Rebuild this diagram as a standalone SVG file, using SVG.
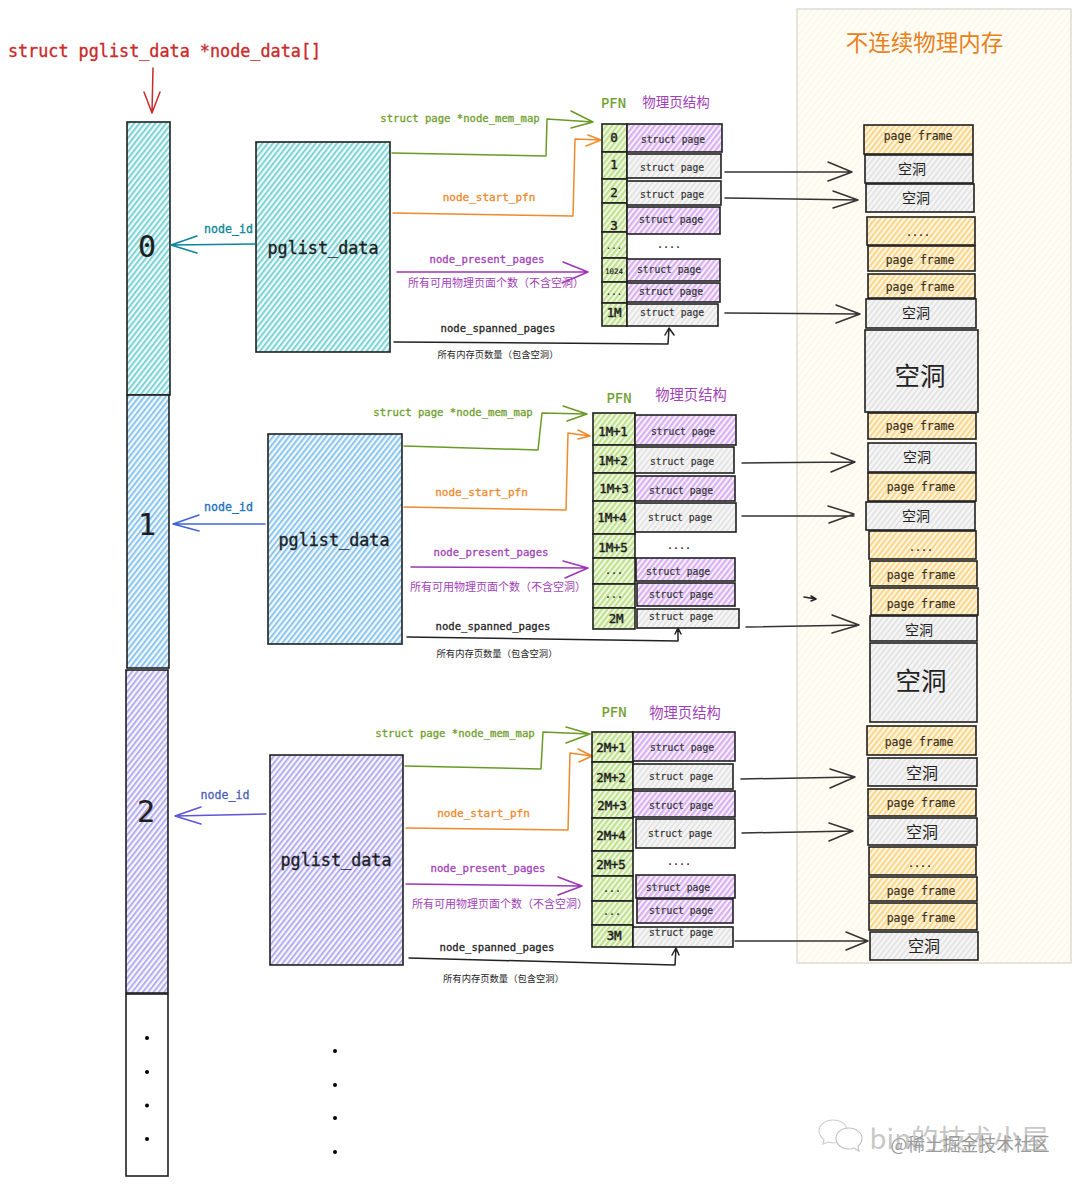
<svg xmlns="http://www.w3.org/2000/svg" width="1080" height="1185" viewBox="0 0 1080 1185">
<style>
text{font-family:"DejaVu Sans Mono","Liberation Mono",monospace;text-anchor:middle;fill:#1e1e1e;stroke:#1e1e1e;stroke-width:.2}
.cn{font-family:"Noto Sans CJK SC","Noto Sans",sans-serif;stroke-width:0}
.box{stroke:#1e1e1e;stroke-width:1.6;filter:url(#soft)}
.teal{fill:url(#hTeal)}.blue{fill:url(#hBlue)}.vio{fill:url(#hVio)}.pur{fill:url(#hPur)}.gry{fill:url(#hGry)}.grn{fill:url(#hGrn)}.org{fill:url(#hOrg)}
.sp{font-size:9.7px;fill:#333;stroke:#333}
.pf{font-size:11.4px;fill:#3a3020;stroke:#3a3020}
.pfn{font-size:12.5px;stroke-width:.45;letter-spacing:-.2px}
.hole{font-family:"Noto Sans CJK SC",sans-serif;font-size:14px;fill:#222;stroke-width:0}
.big{font-family:"Noto Sans CJK SC",sans-serif;font-size:25.5px;fill:#222;stroke-width:0}
.pg{font-size:16.8px;stroke-width:.35}
.lb{font-size:10.6px;stroke-width:.3}
.lg{fill:#6f9e2c;stroke:#6f9e2c}.lo{fill:#ec8a2c;stroke:#ec8a2c}.lp{fill:#a13fb8;stroke:#a13fb8}
.c{fill:none;stroke-width:1.5;stroke-linejoin:round;stroke-linecap:round}
.cg{stroke:#6a9a25}.co{stroke:#ee8a2a}.cp{stroke:#9c36b5}.ck{stroke:#222}.cd{stroke:#333}
</style>
<defs>
<filter id="soft" x="-5%" y="-5%" width="110%" height="110%"><feGaussianBlur stdDeviation="0.35"/></filter>
<pattern id="hTeal" width="4.2" height="4.2" patternUnits="userSpaceOnUse" patternTransform="rotate(-52)"><rect width="4.2" height="4.2" fill="#f2fbfb"/><rect width="4.2" height="2" fill="#7ed3d6"/></pattern>
<pattern id="hBlue" width="4.2" height="4.2" patternUnits="userSpaceOnUse" patternTransform="rotate(-52)"><rect width="4.2" height="4.2" fill="#f3f9fe"/><rect width="4.2" height="2" fill="#8cc6ef"/></pattern>
<pattern id="hVio" width="4.2" height="4.2" patternUnits="userSpaceOnUse" patternTransform="rotate(-52)"><rect width="4.2" height="4.2" fill="#f8f6ff"/><rect width="4.2" height="2" fill="#b6adf0"/></pattern>
<pattern id="hPur" width="4.2" height="4.2" patternUnits="userSpaceOnUse" patternTransform="rotate(-52)"><rect width="4.2" height="4.2" fill="#faf3fe"/><rect width="4.2" height="2.3" fill="#d9b2f1"/></pattern>
<pattern id="hGry" width="4.2" height="4.2" patternUnits="userSpaceOnUse" patternTransform="rotate(-52)"><rect width="4.2" height="4.2" fill="#f5f5f5"/><rect width="4.2" height="1.6" fill="#e2e2e2"/></pattern>
<pattern id="hGrn" width="4.2" height="4.2" patternUnits="userSpaceOnUse" patternTransform="rotate(-52)"><rect width="4.2" height="4.2" fill="#f2f9e4"/><rect width="4.2" height="2.2" fill="#c0e190"/></pattern>
<pattern id="hOrg" width="4.2" height="4.2" patternUnits="userSpaceOnUse" patternTransform="rotate(-52)"><rect width="4.2" height="4.2" fill="#fff8e6"/><rect width="4.2" height="2.2" fill="#fbd78e"/></pattern>
<pattern id="hPanel" width="5" height="5" patternUnits="userSpaceOnUse" patternTransform="rotate(-52)"><rect width="5" height="5" fill="#fffdf6"/><rect width="5" height="1.5" fill="#fcf7e8"/></pattern>
</defs>
<rect width="1080" height="1185" fill="#fff"/>

<g id="panel"><rect x="797" y="9" width="274" height="954" fill="url(#hPanel)" stroke="#dcdad2" stroke-width="1.4"/><text class="cn" x="924.500" y="51" font-size="22.500" style="fill:#e8801c">不连续物理内存</text></g>
<text x="164.500" y="57" font-size="16.800" style="fill:#c92a2a;stroke:#c92a2a;stroke-width:.35">struct pglist_data *node_data[]</text>

<g id="array-0"><rect class="box teal" x="127" y="122" width="43" height="273"/><text x="147" y="257" font-size="30" stroke-width=".6">0</text></g>
<g id="array-1"><rect class="box blue" x="127" y="395" width="42" height="273"/><text x="147" y="535" font-size="30" stroke-width=".6">1</text></g>
<g id="array-2"><rect class="box vio" x="126" y="670" width="42" height="323"/><text x="146" y="822" font-size="30" stroke-width=".6">2</text></g>
<g id="array-more"><rect class="box" fill="#fff" x="126" y="994" width="42" height="182"/><circle cx="147" cy="1038" r="2"/><circle cx="147" cy="1072" r="2"/><circle cx="147" cy="1105.500" r="2"/><circle cx="147" cy="1139" r="2"/></g>
<g id="more-dots"><circle cx="335" cy="1051" r="2"/><circle cx="335" cy="1085" r="2"/><circle cx="335" cy="1118" r="2"/><circle cx="335" cy="1152" r="2"/></g>

<g id="pglist-0"><rect class="box teal" x="256" y="142" width="134" height="210"/><text class="pg" x="323" y="254">pglist_data</text></g>
<g id="pglist-1"><rect class="box blue" x="268" y="434" width="134" height="210"/><text class="pg" x="334" y="546">pglist_data</text></g>
<g id="pglist-2"><rect class="box vio" x="270" y="755" width="133" height="210"/><text class="pg" x="336" y="866">pglist_data</text></g>

<g id="connectors">
<path class="c" stroke="#c92a2a" d="M153 68L152 113M144 92L152 113L160 92"/>
<path class="c" stroke="#0c8599" d="M255 244L171 245M197 236L171 245L197 253"/>
<path class="c" stroke="#4263d8" d="M265 524L173 524M199 515L173 524L199 531"/>
<path class="c" stroke="#5f55d6" d="M266 814L175 816M201 807L175 816L201 824"/>

<path class="c cg" d="M392 153L546 156L547 119L593 122M571 111L593 122L571 128"/>
<path class="c co" d="M393 213L573 216L575 139L601 140M588 135L601 140L586 146"/>
<path class="c cp" d="M397 272L588 272M563 262L588 272L562 283"/>
<path class="c ck" d="M394 342L668 344L669 328M665 335L669 328L674 335"/>

<path class="c cg" d="M404 446L538 450L542 413L587 414M563 406L587 414L567 421"/>
<path class="c co" d="M404 507L566 510L568 433L590 436M578 430L590 436L578 439"/>
<path class="c cp" d="M411 567L588 568M563 561L588 568L565 578"/>
<path class="c ck" d="M407 637L678 641L678 628M675 634L678 628L681 634"/>

<path class="c cg" d="M405 766L541 769L543 732L590 734M566 727L590 734L566 743"/>
<path class="c co" d="M406 828L568 830L570 753L592 756M578 749L592 756L579 762"/>
<path class="c cp" d="M406 884L582 886M558 877L582 886L558 895"/>
<path class="c ck" d="M409 958L675 965L676 948M672 955L676 948L679 955"/>

<path class="c cd" d="M725 172L852 172M828 162L852 172L828 181"/>
<path class="c cd" d="M725 198L858 200M833 191L858 200L833 208"/>
<path class="c cd" d="M725 313L860 314M836 305L860 314L836 323"/>
<path class="c cd" d="M742 463L855 462M831 453L855 462L831 472"/>
<path class="c cd" d="M742 516L854 516M828 506L854 514L829 523"/>
<path class="c cd" d="M746 627L859 625M832 615L859 625L832 633"/>
<path class="c cd" d="M741 779L855 777M830 769L855 777L830 788"/>
<path class="c cd" d="M742 833L853 831M829 823L853 831L829 841"/>
<path class="c cd" d="M735 941L868 941M846 932L868 941L846 950"/>
<path class="c ck" d="M804 597L816 599M811 596L816 599L811 601"/>
</g>

<g id="connector-labels">
<text class="lb" x="228.500" y="233" font-size="11.600" style="font-size:11.600px;fill:#0c8599;stroke:#0c8599">node_id</text>
<text class="lb" x="228.500" y="511" style="font-size:11.600px;fill:#1971c2;stroke:#1971c2">node_id</text>
<text class="lb" x="225" y="799" style="font-size:11.600px;fill:#4f5fb8;stroke:#4f5fb8">node_id</text>

<text class="lb lg" x="460" y="122">struct page *node_mem_map</text>
<text class="lb lo" x="489" y="201" style="font-size:11px">node_start_pfn</text>
<text class="lb lp" x="487" y="263">node_present_pages</text>
<text class="cn lp" x="496" y="287" font-size="11" style="stroke-width:0">所有可用物理页面个数（不含空洞）</text>
<text class="lb" x="498" y="332">node_spanned_pages</text>
<text class="cn" x="498" y="358" font-size="9.300">所有内存页数量（包含空洞）</text>

<text class="lb lg" x="453" y="416">struct page *node_mem_map</text>
<text class="lb lo" x="481.500" y="496" style="font-size:11px">node_start_pfn</text>
<text class="lb lp" x="491" y="556">node_present_pages</text>
<text class="cn lp" x="498" y="591" font-size="11" style="stroke-width:0">所有可用物理页面个数（不含空洞）</text>
<text class="lb" x="493" y="630">node_spanned_pages</text>
<text class="cn" x="497" y="657" font-size="9.300">所有内存页数量（包含空洞）</text>

<text class="lb lg" x="455" y="737">struct page *node_mem_map</text>
<text class="lb lo" x="483.500" y="817" style="font-size:11px">node_start_pfn</text>
<text class="lb lp" x="488" y="872">node_present_pages</text>
<text class="cn lp" x="500" y="908" font-size="11" style="stroke-width:0">所有可用物理页面个数（不含空洞）</text>
<text class="lb" x="497" y="951">node_spanned_pages</text>
<text class="cn" x="503.500" y="982" font-size="9.300">所有内存页数量（包含空洞）</text>

<text x="613.500" y="108" font-size="13.800" class="lg" stroke-width=".3">PFN</text>
<text class="cn lp" x="676" y="107" font-size="13.500" style="stroke-width:0">物理页结构</text>
<text x="619" y="403" font-size="13.800" class="lg">PFN</text>
<text class="cn lp" x="691" y="400" font-size="14.300" style="stroke-width:0">物理页结构</text>
<text x="614" y="717" font-size="13.800" class="lg">PFN</text>
<text class="cn lp" x="685" y="718" font-size="14.300" style="stroke-width:0">物理页结构</text>
</g>

<!-- node 0 page table -->
<g id="pfn0-0"><rect class="box grn" x="602" y="124" width="25" height="28"/><text class="pfn" x="614" y="142">0</text></g>
<g id="pfn0-1"><rect class="box grn" x="602" y="152" width="25" height="27"/><text class="pfn" x="614" y="169">1</text></g>
<g id="pfn0-2"><rect class="box grn" x="602" y="179" width="25" height="24"/><text class="pfn" x="614" y="197">2</text></g>
<g id="pfn0-3"><rect class="box grn" x="602" y="203" width="25" height="29"/><text class="pfn" x="614" y="230">3</text></g>
<g id="pfn0-4"><rect class="box grn" x="602" y="232" width="25" height="26"/><text x="614" y="249" font-size="9">...</text></g>
<g id="pfn0-5"><rect class="box grn" x="602" y="258" width="25" height="24"/><text x="614" y="274" font-size="7.500" stroke-width=".3">1024</text></g>
<g id="pfn0-6"><rect class="box grn" x="602" y="282" width="25" height="21"/><text x="614" y="295" font-size="9">...</text></g>
<g id="pfn0-7"><rect class="box grn" x="602" y="303" width="25" height="23"/><text class="pfn" x="614" y="317">1M</text></g>
<g id="page0-0"><rect class="box pur" x="627" y="124" width="95" height="28"/><text class="sp" x="673" y="143">struct page</text></g>
<g id="page0-1"><rect class="box gry" x="627" y="154" width="94" height="24"/><text class="sp" x="672" y="171">struct page</text></g>
<g id="page0-2"><rect class="box gry" x="627" y="181" width="94" height="24"/><text class="sp" x="672" y="198">struct page</text></g>
<g id="page0-3"><rect class="box pur" x="627" y="207" width="93" height="27"/><text class="sp" x="671" y="223">struct page</text></g>
<text x="669" y="248" font-size="10">....</text>
<g id="page0-5"><rect class="box pur" x="627" y="259" width="93" height="22"/><text class="sp" x="669" y="273">struct page</text></g>
<g id="page0-6"><rect class="box pur" x="627" y="283" width="93" height="19"/><text class="sp" x="671" y="295">struct page</text></g>
<g id="page0-7"><rect class="box gry" x="627" y="304" width="91" height="22"/><text class="sp" x="672" y="316">struct page</text></g>

<!-- node 1 page table -->
<g id="pfn1-0"><rect class="box grn" x="593" y="413" width="42" height="32"/><text class="pfn" x="613" y="436">1M+1</text></g>
<g id="pfn1-1"><rect class="box grn" x="593" y="445" width="42" height="28"/><text class="pfn" x="613" y="465">1M+2</text></g>
<g id="pfn1-2"><rect class="box grn" x="593" y="473" width="42" height="28"/><text class="pfn" x="614" y="493">1M+3</text></g>
<g id="pfn1-3"><rect class="box grn" x="593" y="501" width="42" height="33"/><text class="pfn" x="612" y="522">1M+4</text></g>
<g id="pfn1-4"><rect class="box grn" x="593" y="534" width="42" height="24"/><text class="pfn" x="613" y="552">1M+5</text></g>
<g id="pfn1-5"><rect class="box grn" x="593" y="558" width="42" height="26"/><text x="614" y="574" font-size="10">...</text></g>
<g id="pfn1-6"><rect class="box grn" x="593" y="584" width="42" height="24"/><text x="614" y="598" font-size="10">...</text></g>
<g id="pfn1-7"><rect class="box grn" x="593" y="608" width="42" height="21"/><text class="pfn" x="616" y="623">2M</text></g>
<g id="page1-0"><rect class="box pur" x="635" y="415" width="101" height="30"/><text class="sp" x="683" y="435">struct page</text></g>
<g id="page1-1"><rect class="box gry" x="635" y="447" width="99" height="26"/><text class="sp" x="682" y="465">struct page</text></g>
<g id="page1-2"><rect class="box pur" x="635" y="476" width="100" height="25"/><text class="sp" x="681" y="494">struct page</text></g>
<g id="page1-3"><rect class="box gry" x="635" y="503" width="101" height="29"/><text class="sp" x="680" y="521">struct page</text></g>
<text x="679" y="549" font-size="10">....</text>
<g id="page1-5"><rect class="box pur" x="636" y="558" width="99" height="23"/><text class="sp" x="678" y="575">struct page</text></g>
<g id="page1-6"><rect class="box pur" x="637" y="583" width="98" height="23"/><text class="sp" x="681" y="598">struct page</text></g>
<g id="page1-7"><rect class="box gry" x="637" y="609" width="102" height="19"/><text class="sp" x="681" y="620">struct page</text></g>

<!-- node 2 page table -->
<g id="pfn2-0"><rect class="box grn" x="592" y="732" width="41" height="30"/><text class="pfn" x="611" y="752">2M+1</text></g>
<g id="pfn2-1"><rect class="box grn" x="592" y="762" width="41" height="28"/><text class="pfn" x="611" y="782">2M+2</text></g>
<g id="pfn2-2"><rect class="box grn" x="592" y="790" width="41" height="28"/><text class="pfn" x="612" y="810">2M+3</text></g>
<g id="pfn2-3"><rect class="box grn" x="592" y="818" width="41" height="33"/><text class="pfn" x="611" y="840">2M+4</text></g>
<g id="pfn2-4"><rect class="box grn" x="592" y="851" width="41" height="25"/><text class="pfn" x="611" y="869">2M+5</text></g>
<g id="pfn2-5"><rect class="box grn" x="592" y="876" width="41" height="25"/><text x="612" y="892" font-size="10">...</text></g>
<g id="pfn2-6"><rect class="box grn" x="592" y="901" width="41" height="24"/><text x="612" y="915" font-size="10">...</text></g>
<g id="pfn2-7"><rect class="box grn" x="592" y="925" width="41" height="22"/><text class="pfn" x="614" y="940">3M</text></g>
<g id="page2-0"><rect class="box pur" x="633" y="732" width="102" height="29"/><text class="sp" x="682" y="751">struct page</text></g>
<g id="page2-1"><rect class="box gry" x="633" y="764" width="100" height="25"/><text class="sp" x="681" y="780">struct page</text></g>
<g id="page2-2"><rect class="box pur" x="633" y="791" width="102" height="26"/><text class="sp" x="681" y="809">struct page</text></g>
<g id="page2-3"><rect class="box gry" x="636" y="819" width="99" height="29"/><text class="sp" x="680" y="837">struct page</text></g>
<text x="679" y="865" font-size="10">....</text>
<g id="page2-5"><rect class="box pur" x="636" y="875" width="99" height="23"/><text class="sp" x="678" y="891">struct page</text></g>
<g id="page2-6"><rect class="box pur" x="637" y="899" width="96" height="24"/><text class="sp" x="681" y="914">struct page</text></g>
<g id="page2-7"><rect class="box gry" x="633" y="927" width="100" height="20"/><text class="sp" x="681" y="936">struct page</text></g>

<!-- physical memory -->
<g id="f01"><rect class="box org" x="864" y="125" width="109" height="29"/><text class="pf" x="918" y="140">page frame</text></g>
<g id="f02"><rect class="box gry" x="865" y="155" width="108" height="28"/><text class="hole" x="912" y="174">空洞</text></g>
<g id="f03"><rect class="box gry" x="866" y="184" width="108" height="28"/><text class="hole" x="916" y="203">空洞</text></g>
<g id="f04"><rect class="box org" x="867" y="217" width="108" height="28"/><text x="918" y="236" font-size="10">....</text></g>
<g id="f05"><rect class="box org" x="868" y="246" width="107" height="25"/><text class="pf" x="920" y="264">page frame</text></g>
<g id="f06"><rect class="box org" x="868" y="274" width="107" height="24"/><text class="pf" x="920" y="291">page frame</text></g>
<g id="f07"><rect class="box gry" x="866" y="299" width="110" height="29"/><text class="hole" x="916" y="318">空洞</text></g>
<g id="f08"><rect class="box gry" x="865" y="330" width="113" height="82"/><text class="big" x="920" y="385">空洞</text></g>
<g id="f09"><rect class="box org" x="868" y="413" width="108" height="26"/><text class="pf" x="920" y="430">page frame</text></g>
<g id="f10"><rect class="box gry" x="868" y="443" width="108" height="29"/><text class="hole" x="917" y="462">空洞</text></g>
<g id="f11"><rect class="box org" x="868" y="473" width="108" height="28"/><text class="pf" x="921" y="491">page frame</text></g>
<g id="f12"><rect class="box gry" x="866" y="502" width="109" height="28"/><text class="hole" x="916" y="521">空洞</text></g>
<g id="f13"><rect class="box org" x="869" y="531" width="107" height="28"/><text x="921" y="551" font-size="10">....</text></g>
<g id="f14"><rect class="box org" x="870" y="561" width="107" height="25"/><text class="pf" x="921" y="579">page frame</text></g>
<g id="f15"><rect class="box org" x="871" y="588" width="107" height="27"/><text class="pf" x="921" y="608">page frame</text></g>
<g id="f16"><rect class="box gry" x="870" y="616" width="107" height="25"/><text class="hole" x="919" y="635">空洞</text></g>
<g id="f17"><rect class="box gry" x="870" y="643" width="107" height="79"/><text class="big" x="921" y="690">空洞</text></g>
<g id="f18"><rect class="box org" x="867" y="726" width="109" height="29"/><text class="pf" x="919" y="746">page frame</text></g>
<g id="f19"><rect class="box gry" x="868" y="758" width="109" height="28"/><text class="hole" x="922" y="779" style="font-size:16px">空洞</text></g>
<g id="f20"><rect class="box org" x="868" y="789" width="108" height="27"/><text class="pf" x="921" y="807">page frame</text></g>
<g id="f21"><rect class="box gry" x="868" y="818" width="109" height="27"/><text class="hole" x="922" y="838" style="font-size:16px">空洞</text></g>
<g id="f22"><rect class="box org" x="869" y="847" width="107" height="28"/><text x="920" y="867" font-size="10">....</text></g>
<g id="f23"><rect class="box org" x="869" y="877" width="108" height="24"/><text class="pf" x="921" y="895">page frame</text></g>
<g id="f24"><rect class="box org" x="869" y="903" width="108" height="27"/><text class="pf" x="921" y="922">page frame</text></g>
<g id="f25"><rect class="box gry" x="870" y="932" width="108" height="28"/><text class="hole" x="924" y="952" style="font-size:16px">空洞</text></g>

<g id="watermark">
<path fill="#fff" stroke="#cfcfcf" stroke-width="1.2" d="M833 1120c-8 0-14 5-14 11 0 4 2 6 5 9l-1 4 5-2c2 0 3 1 5 1 8 0 14-5 14-12s-6-11-14-11z"/>
<path fill="#fff" stroke="#c4c4c4" stroke-width="1.2" d="M849 1128c-8 0-13 5-13 10 0 6 5 11 13 11 2 0 3 0 5-1l5 3-1-5c3-2 4-5 4-8 0-5-6-10-13-10z"/>
<text x="959" y="1149" font-size="27.500" class="cn" style="fill:#c8c8c8">bin的技术小屋</text>
<text x="970" y="1151" font-size="17.800" class="cn" style="fill:#9a9a9a">@稀土掘金技术社区</text>
</g>
</svg>
